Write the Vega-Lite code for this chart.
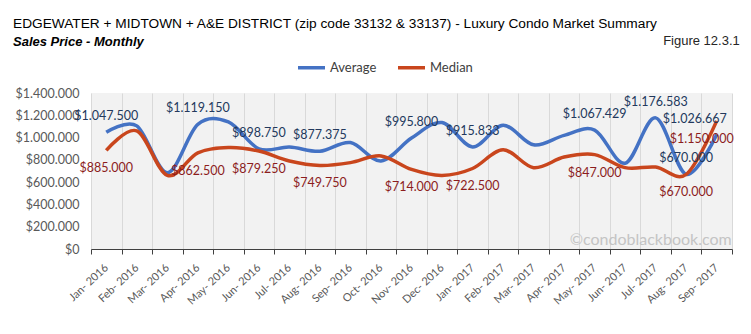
{
  "$schema": "https://vega.github.io/schema/vega-lite/v6.json",
  "width": 641,
  "height": 156,
  "autosize": {"type": "none"},
  "padding": {"left": 91, "top": 93, "right": 19, "bottom": 85},
  "background": "white",
  "config": {
    "locale": {"number": {"decimal": ",", "thousands": ".", "grouping": [3], "currency": ["$", ""]}},
    "view": {"fill": "#f2f2f2", "stroke": null},
    "font": "Lato"
  },
  "title": {
    "text": "EDGEWATER + MIDTOWN + A&E DISTRICT (zip code 33132 & 33137) - Luxury Condo Market Summary",
    "subtitle": "Sales Price - Monthly",
    "anchor": "start",
    "frame": "group",
    "dx": -78,
    "offset": -14,
    "font": "Liberation Sans",
    "fontSize": 13.7,
    "fontWeight": "normal",
    "color": "#000000",
    "subtitleFont": "Liberation Sans",
    "subtitleFontSize": 13,
    "subtitleFontStyle": "italic",
    "subtitleFontWeight": "bold",
    "subtitleColor": "#000000",
    "subtitlePadding": 5
  },
  "data": {
    "values": [
      {"month": "Jan- 2016", "series": "Average", "value": 1047500},
      {"month": "Feb- 2016", "series": "Average", "value": 1105000},
      {"month": "Mar- 2016", "series": "Average", "value": 685000},
      {"month": "Apr- 2016", "series": "Average", "value": 1119150},
      {"month": "May- 2016", "series": "Average", "value": 1140000},
      {"month": "Jun- 2016", "series": "Average", "value": 898750},
      {"month": "Jul- 2016", "series": "Average", "value": 915000},
      {"month": "Aug- 2016", "series": "Average", "value": 877375},
      {"month": "Sep- 2016", "series": "Average", "value": 955000},
      {"month": "Oct- 2016", "series": "Average", "value": 790000},
      {"month": "Nov- 2016", "series": "Average", "value": 995800},
      {"month": "Dec- 2016", "series": "Average", "value": 1135000},
      {"month": "Jan- 2017", "series": "Average", "value": 915833},
      {"month": "Feb- 2017", "series": "Average", "value": 1110000},
      {"month": "Mar- 2017", "series": "Average", "value": 935000},
      {"month": "Apr- 2017", "series": "Average", "value": 1020000},
      {"month": "May- 2017", "series": "Average", "value": 1067429},
      {"month": "Jun- 2017", "series": "Average", "value": 770000},
      {"month": "Jul- 2017", "series": "Average", "value": 1176583},
      {"month": "Aug- 2017", "series": "Average", "value": 670000},
      {"month": "Sep- 2017", "series": "Average", "value": 1026667},
      {"month": "Jan- 2016", "series": "Median", "value": 885000},
      {"month": "Feb- 2016", "series": "Median", "value": 1060000},
      {"month": "Mar- 2016", "series": "Median", "value": 660000},
      {"month": "Apr- 2016", "series": "Median", "value": 862500},
      {"month": "May- 2016", "series": "Median", "value": 910000},
      {"month": "Jun- 2016", "series": "Median", "value": 879250},
      {"month": "Jul- 2016", "series": "Median", "value": 790000},
      {"month": "Aug- 2016", "series": "Median", "value": 749750},
      {"month": "Sep- 2016", "series": "Median", "value": 775000},
      {"month": "Oct- 2016", "series": "Median", "value": 835000},
      {"month": "Nov- 2016", "series": "Median", "value": 714000},
      {"month": "Dec- 2016", "series": "Median", "value": 660000},
      {"month": "Jan- 2017", "series": "Median", "value": 722500},
      {"month": "Feb- 2017", "series": "Median", "value": 890000},
      {"month": "Mar- 2017", "series": "Median", "value": 730000},
      {"month": "Apr- 2017", "series": "Median", "value": 825000},
      {"month": "May- 2017", "series": "Median", "value": 847000},
      {"month": "Jun- 2017", "series": "Median", "value": 730000},
      {"month": "Jul- 2017", "series": "Median", "value": 735000},
      {"month": "Aug- 2017", "series": "Median", "value": 670000},
      {"month": "Sep- 2017", "series": "Median", "value": 1150000}
    ]
  },
  "encoding": {
    "x": {
      "field": "month",
      "type": "ordinal",
      "sort": null,
      "scale": {"type": "band", "paddingInner": 0, "paddingOuter": 0},
      "axis": {
        "title": null,
        "tickBand": "extent",
        "grid": true,
        "gridColor": "#d9d9d9",
        "gridWidth": 1,
        "domainColor": "#404040",
        "domainWidth": 1,
        "tickColor": "#404040",
        "tickSize": 5,
        "labelAngle": -43,
        "labelAlign": "right",
        "labelBaseline": "middle",
        "labelPadding": 12,
        "labelFont": "Lato",
        "labelFontSize": 11,
        "labelColor": "#595959"
      }
    },
    "y": {
      "field": "value",
      "type": "quantitative",
      "scale": {"domain": [0, 1400000], "nice": false},
      "axis": {
        "title": null,
        "values": [0, 200000, 400000, 600000, 800000, 1000000, 1200000, 1400000],
        "format": "$,.0f",
        "grid": false,
        "domain": false,
        "ticks": false,
        "labelPadding": 12,
        "labelFont": "Lato",
        "labelFontSize": 12.5,
        "labelColor": "#595959"
      }
    }
  },
  "layer": [
    {
      "mark": {"type": "line", "interpolate": "cardinal", "tension": 0, "strokeWidth": 3.5},
      "encoding": {
        "color": {
          "field": "series",
          "type": "nominal",
          "scale": {"domain": ["Average", "Median"], "range": ["#4472C4", "#C9461D"]},
          "legend": {
            "orient": "none",
            "legendX": 205,
            "legendY": -41,
            "direction": "horizontal",
            "title": null,
            "symbolType": "stroke",
            "symbolStrokeWidth": 3.5,
            "symbolSize": 729,
            "labelFont": "Lato",
            "labelFontSize": 13,
            "labelColor": "#404040",
            "labelOffset": 3,
            "columnPadding": 14
          }
        }
      }
    },
    {
      "transform": [
        {"filter": {"field": "series", "equal": "Average"}},
        {"filter": {"field": "month", "oneOf": ["Jan- 2016", "Apr- 2016", "Jun- 2016", "Aug- 2016", "Nov- 2016", "Jan- 2017", "May- 2017", "Jul- 2017", "Aug- 2017"]}}
      ],
      "mark": {"type": "text", "dy": -16, "fontSize": 12.5, "font": "Lato", "color": "#23395d"},
      "encoding": {"text": {"field": "value", "type": "quantitative", "format": "$,.0f"}}
    },
    {
      "transform": [
        {"filter": {"field": "series", "equal": "Average"}},
        {"filter": {"field": "month", "equal": "Sep- 2017"}}
      ],
      "mark": {"type": "text", "dy": -16, "dx": -22, "fontSize": 12.5, "font": "Lato", "color": "#23395d"},
      "encoding": {"text": {"field": "value", "type": "quantitative", "format": "$,.0f"}}
    },
    {
      "transform": [
        {"filter": {"field": "series", "equal": "Median"}},
        {"filter": {"field": "month", "oneOf": ["Jan- 2016", "Apr- 2016", "Jun- 2016", "Aug- 2016", "Nov- 2016", "Jan- 2017", "May- 2017", "Aug- 2017"]}}
      ],
      "mark": {"type": "text", "dy": 18, "fontSize": 12.5, "font": "Lato", "color": "#8c1d1d"},
      "encoding": {"text": {"field": "value", "type": "quantitative", "format": "$,.0f"}}
    },
    {
      "transform": [
        {"filter": {"field": "series", "equal": "Median"}},
        {"filter": {"field": "month", "equal": "Sep- 2017"}}
      ],
      "mark": {"type": "text", "dy": 18, "dx": -15, "fontSize": 12.5, "font": "Lato", "color": "#8c1d1d"},
      "encoding": {"text": {"field": "value", "type": "quantitative", "format": "$,.0f"}}
    },
    {
      "transform": [
        {"filter": {"field": "series", "equal": "Average"}},
        {"filter": {"field": "month", "equal": "Sep- 2017"}}
      ],
      "mark": {"type": "text", "align": "right", "baseline": "alphabetic", "dx": 15, "dy": -4, "fontSize": 16, "font": "Lato", "color": "#c4c4c4"},
      "encoding": {
        "y": {"datum": 0, "type": "quantitative"},
        "text": {"value": "©condoblackbook.com"}
      }
    },
    {
      "transform": [
        {"filter": {"field": "series", "equal": "Average"}},
        {"filter": {"field": "month", "equal": "Sep- 2017"}}
      ],
      "mark": {"type": "text", "align": "right", "baseline": "alphabetic", "dx": 23, "dy": -48, "fontSize": 13, "font": "Liberation Sans", "color": "#262626"},
      "encoding": {
        "y": {"datum": 1400000, "type": "quantitative"},
        "text": {"value": "Figure 12.3.1"}
      }
    }
  ]
}
